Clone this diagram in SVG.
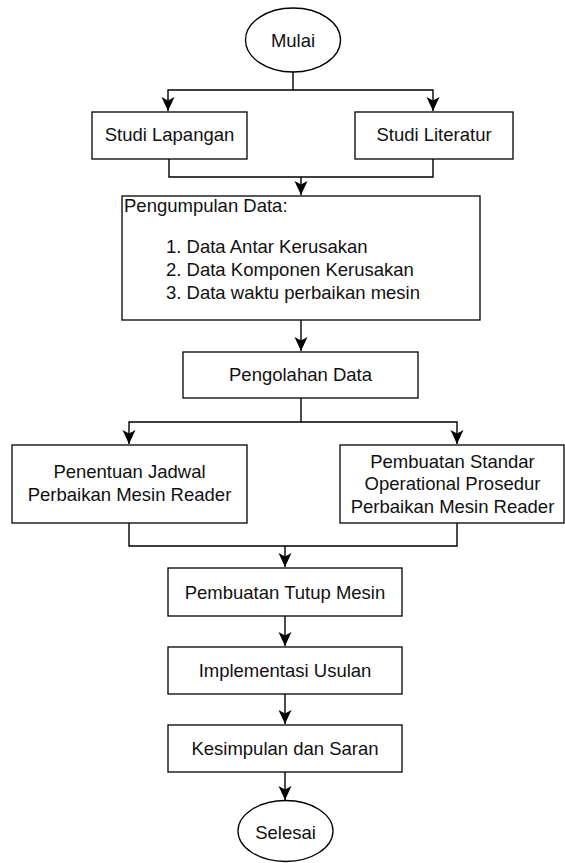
<svg xmlns="http://www.w3.org/2000/svg" width="565" height="863" viewBox="0 0 565 863">
<style>
.box{fill:#fff;stroke:#000;stroke-width:1.3}
.t{font-family:"Liberation Sans",Arial,sans-serif;font-size:18.5px;fill:#111}
.c{text-anchor:middle}
.ln{fill:none;stroke:#000;stroke-width:1.4}
</style>
<defs>
<marker id="arr" markerUnits="userSpaceOnUse" viewBox="0 0 14 14" refX="14" refY="7" markerWidth="14" markerHeight="14" orient="auto">
<path d="M0,0.5 L14,7 L0,13.5 L3.5,7 Z" fill="#000"/>
</marker>
</defs>
<rect width="565" height="863" fill="#fff"/>
<g id="connectors">
<path class="ln" d="M293,72 V90 H168 V111" marker-end="url(#arr)"/>
<path class="ln" d="M293,90 H433 V111" marker-end="url(#arr)"/>
<path class="ln" d="M169,159 V177 H433 V159"/>
<path class="ln" d="M301,177 V195" marker-end="url(#arr)"/>
<path class="ln" d="M301,320 V351" marker-end="url(#arr)"/>
<path class="ln" d="M301,398 V422 H129 V444" marker-end="url(#arr)"/>
<path class="ln" d="M301,422 H457 V444" marker-end="url(#arr)"/>
<path class="ln" d="M129,523 V546 H457 V523"/>
<path class="ln" d="M285,546 V567" marker-end="url(#arr)"/>
<path class="ln" d="M285,616 V646" marker-end="url(#arr)"/>
<path class="ln" d="M285,694 V724" marker-end="url(#arr)"/>
<path class="ln" d="M285,772 V800" marker-end="url(#arr)"/>
</g>
<g id="mulai">
<ellipse class="box" cx="293" cy="40" rx="47.5" ry="32"/>
<text class="t c" x="293" y="47">Mulai</text>
</g>
<g id="studi-lapangan">
<rect class="box" x="92" y="112" width="155" height="47"/>
<text class="t c" x="169.5" y="141">Studi Lapangan</text>
</g>
<g id="studi-literatur">
<rect class="box" x="355" y="112" width="158" height="47"/>
<text class="t c" x="434" y="141">Studi Literatur</text>
</g>
<g id="pengumpulan-data">
<rect class="box" x="122" y="196" width="358" height="124"/>
<text class="t" x="124" y="212">Pengumpulan Data:</text>
<text class="t" x="166" y="253">1. Data Antar Kerusakan</text>
<text class="t" x="166" y="276">2. Data Komponen Kerusakan</text>
<text class="t" x="166" y="299">3. Data waktu perbaikan mesin</text>
</g>
<g id="pengolahan-data">
<rect class="box" x="183" y="352" width="235" height="46"/>
<text class="t c" x="300.5" y="380.5">Pengolahan Data</text>
</g>
<g id="penentuan-jadwal">
<rect class="box" x="12" y="445" width="235" height="78"/>
<text class="t c" x="129.5" y="478">Penentuan Jadwal</text>
<text class="t c" x="129.5" y="501">Perbaikan Mesin Reader</text>
</g>
<g id="pembuatan-sop">
<rect class="box" x="340" y="445" width="224" height="78"/>
<text class="t c" x="452.5" y="467.5">Pembuatan Standar</text>
<text class="t c" x="452.5" y="490">Operational Prosedur</text>
<text class="t c" x="452.5" y="512.5">Perbaikan Mesin Reader</text>
</g>
<g id="pembuatan-tutup-mesin">
<rect class="box" x="168" y="568" width="234" height="48"/>
<text class="t c" x="285" y="598.5">Pembuatan Tutup Mesin</text>
</g>
<g id="implementasi-usulan">
<rect class="box" x="168" y="647" width="234" height="47"/>
<text class="t c" x="285" y="677">Implementasi Usulan</text>
</g>
<g id="kesimpulan-saran">
<rect class="box" x="168" y="725" width="234" height="47"/>
<text class="t c" x="285" y="755">Kesimpulan dan Saran</text>
</g>
<g id="selesai">
<ellipse class="box" cx="285.5" cy="831" rx="47.5" ry="30.5"/>
<text class="t c" x="285.5" y="838.5">Selesai</text>
</g>
</svg>
